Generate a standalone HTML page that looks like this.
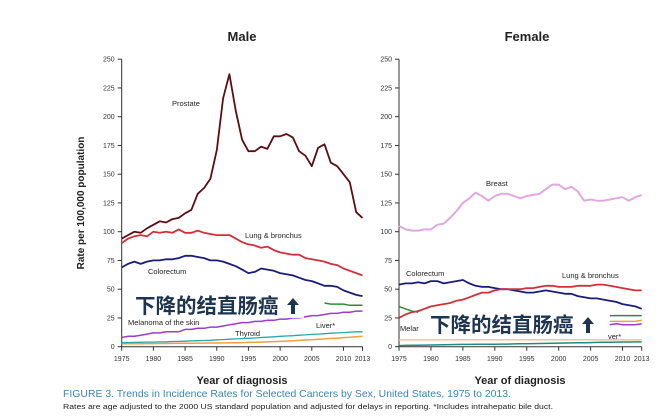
<!DOCTYPE html>
<html><head><meta charset="utf-8"><style>
body{margin:0;background:#fff;width:670px;height:416px;overflow:hidden}
svg{display:block;font-family:"Liberation Sans",Arial,sans-serif}
</style></head><body>
<svg id="c" width="670" height="416">
<text x="242" y="41" font-size="13" font-weight="bold" text-anchor="middle" fill="#222">Male</text>
<text x="527" y="41" font-size="13" font-weight="bold" text-anchor="middle" fill="#222">Female</text>
<text transform="translate(84,203) rotate(-90)" font-size="10" font-weight="bold" text-anchor="middle" fill="#222">Rate per 100,000 population</text>
<text x="242" y="384" font-size="11" font-weight="bold" text-anchor="middle" fill="#222">Year of diagnosis</text>
<text x="520" y="384" font-size="11" font-weight="bold" text-anchor="middle" fill="#222">Year of diagnosis</text>
<text x="63" y="397" font-size="10.5" fill="#3a86b0" textLength="448" lengthAdjust="spacingAndGlyphs">FIGURE 3. Trends in Incidence Rates for Selected Cancers by Sex, United States, 1975 to 2013.</text>
<text x="63" y="409" font-size="7" fill="#222" textLength="490" lengthAdjust="spacingAndGlyphs">Rates are age adjusted to the 2000 US standard population and adjusted for delays in reporting. *Includes intrahepatic bile duct.</text>
</svg>
<script>
const years=[];for(let y=1975;y<=2013;y++)years.push(y);
const yTicks=[0,25,50,75,100,125,150,175,200,225,250];
const xTicks=[1975,1980,1985,1990,1995,2000,2005,2010,2013];
const maleProstate=[94,97,100,99,103,106,109,108,111,112,116,119,133,138,146,171,216,237,205,180,170,170,174,172,183,183,185,182,170,166,157,173,176,160,157,150,143,117,112];
const maleLung=[90,94,96,97,96,100,99,100,99,102,99,99,101,99,98,97,97,97,94,91,89,88,86,87,84,82,81,80,80,77,76,75,74,72,71,68,66,64,62];
const maleColorectum=[69,72,74,72,74,75,75,76,76,77,79,79,78,77,75,75,74,72,70,67,64,65,68,67,66,64,63,62,60,58,57,55,53,53,52,49,47,45,44];
const maleMelanoma=[8,9,9,10,11,12,12,13,13,13,15,15,16,16,17,17,18,19,20,21,21,22,22,23,23,24,24,25,25,26,27,27,28,29,29,30,30,31,31];
const maleLiver=[3.5,3.6,3.7,3.8,4,4,4.2,4.3,4.5,4.6,4.8,5,5.2,5.4,5.6,6,6.2,6.5,6.8,7,7.3,7.6,8,8.3,8.6,9,9.3,9.6,10,10.3,10.7,11,11.3,11.7,12,12.3,12.7,13,13];
const maleThyroid=[2.5,2.5,2.6,2.6,2.7,2.7,2.8,2.8,2.9,3,3,3,3.1,3.1,3.2,3.2,3.3,3.4,3.5,3.6,3.7,3.9,4,4.2,4.4,4.6,4.9,5.2,5.5,5.8,6.1,6.5,6.8,7.2,7.5,7.9,8.2,8.6,9];
const maleKidneyTail=[38,37,37,37,36,36,36];
const femaleBreast=[105,102,101,101,102,102,106,107,112,118,125,129,134,131,127,131,133,133,131,129,131,132,133,137,141,141,137,139,135,127,128,127,127,128,129,130,127,130,132];
const femaleLung=[25,28,30,31,33,35,36,37,38,40,41,43,45,47,47,49,50,50,50,50,51,51,52,53,53,52,52,52,53,53,53,54,54,53,52,51,50,49,49];
const femaleColorectum=[54,55,55,56,55,57,57,55,56,57,58,55,53,52,52,51,50,50,49,48,47,47,48,49,48,47,46,46,44,43,42,42,41,40,39,37,36,35,33];
const femaleLow=[1,1.1,1.2,1.3,1.4,1.5,1.6,1.7,1.8,1.9,2,2,2.1,2.1,2.2,2.2,2.3,2.3,2.4,2.5,2.6,2.7,2.8,2.9,3,3.1,3.2,3.3,3.4,3.5,3.6,3.7,3.8,3.9,4,4.1,4.1,4.2,4.2];
const femaleOrange=[6,6,6,6,6,6,6,6,6,6,6,6,6,6,6,6,6,6,6,6,6,6,6,6,6,6,6,6,6,6,6,6,6,6,6,6,6,6,6];
const femaleUterusHead=[35,33,31,30];
const femaleTail=[27,27,27,27,27,27];
const femalePurpleTail=[19,20,19,19,19,20];
const femaleOrangeTail=[22,22,22,22,22,23];

const svg=document.getElementById('c');const NS='http://www.w3.org/2000/svg';
function mk(t,a){const e=document.createElementNS(NS,t);for(const k in a)e.setAttribute(k,a[k]);svg.appendChild(e);return e;}
const Y=v=>346.7-v*1.15;
function panel(name,x0,x1){
  const X=y=>x0+(y-1975)*(x1-x0)/38;
  const ax=mk('path',{d:`M${x0},${Y(250)}V${Y(0)}H${x1}`,stroke:'#333',fill:'none','stroke-width':1});
  
  
  yTicks.forEach(v=>{mk('line',{x1:x0-4,x2:x0,y1:Y(v),y2:Y(v),stroke:'#333'});
    const t=mk('text',{x:x0-7,y:Y(v)+2.5,'font-size':7,'text-anchor':'end',fill:'#333'});t.textContent=v;
    
    });
  xTicks.forEach(v=>{mk('line',{x1:X(v),x2:X(v),y1:Y(0),y2:Y(0)+4,stroke:'#333'});
    const t=mk('text',{x:X(v),y:361,'font-size':7,'text-anchor':'middle',fill:'#333'});t.textContent=v;
    
    });
  return X;
}
function line(X,arr,start,color,w,nm){
  const d=arr.map((v,i)=>(i?'L':'M')+X(start+i).toFixed(1)+','+Y(v).toFixed(1)).join('');
  const p=mk('path',{d:d,stroke:color,fill:'none','stroke-width':w,'stroke-linejoin':'round'});
  
  
}
function label(x,y,s,nm){const t=mk('text',{x:x,y:y,'font-size':7.5,fill:'#222'});t.textContent=s;
  
  }
const XM=panel('male',121.7,362.5);
line(XM,maleThyroid,1975,'#f0a040',1.5,'male-thyroid-line');
line(XM,maleLiver,1975,'#2aa6a6',1.3,'male-liver-line');
line(XM,maleMelanoma,1975,'#9a3ccc',1.5,'male-melanoma-line');
line(XM,maleKidneyTail,2007,'#2e8b3a',1.5,'male-kidney-line');
line(XM,maleColorectum,1975,'#1c1c78',1.8,'male-colorectum-line');
line(XM,maleLung,1975,'#d0303a',1.8,'male-lung-line');
line(XM,maleProstate,1975,'#5a0d14',1.8,'male-prostate-line');
label(172,106,'Prostate','prostate-label');label(245,238,'Lung & bronchus','male-lung-label');
label(148,274,'Colorectum','male-colorectum-label');label(235,336,'Thyroid','thyroid-label');
label(316,328,'Liver*','liver-label');label(128,325,'Melanoma of the skin','melanoma-label');
const XF=panel('female',399,641.7);
line(XF,femaleOrange,1975,'#f0c080',1.3,'female-thyroid-line');
line(XF,femaleLow,1975,'#1e8a8a',1.5,'female-liver-line');
line(XF,femaleUterusHead,1975,'#2e8b3a',1.5,'female-uterus-line');
line(XF,femaleTail,2008,'#2e8b3a',1.5,'female-uterus-tail');
line(XF,femaleOrangeTail,2008,'#f0a040',1.5,'female-thyroid-tail');
line(XF,femalePurpleTail,2008,'#9a3ccc',1.5,'female-melanoma-tail');
line(XF,femaleColorectum,1975,'#1c1c78',1.8,'female-colorectum-line');
line(XF,femaleLung,1975,'#d0303a',1.8,'female-lung-line');
line(XF,femaleBreast,1975,'#e0a8e0',2,'female-breast-line');
label(486,186,'Breast','breast-label');label(562,278,'Lung & bronchus','female-lung-label');
label(406,276,'Colorectum','female-colorectum-label');label(400,331,'Melar','female-melanoma-label');
label(608,339,'ver*','female-liver-label');
function overlay(x,y,nm){
  const r=mk('rect',{x:x-3,y:y-20,width:172,height:25,fill:'#fff','fill-opacity':0.85});
  
  
  const t=mk('text',{x:x,y:y,'font-size':20.5,'font-weight':'bold',fill:'#1e3550','font-family':'"Liberation Sans","Noto Sans CJK SC",sans-serif'});
  t.textContent='下降的结直肠癌';
  
  
  const a=mk('path',{d:`M${x+158},${y-15} l-6,7 h4 v9 h4 v-9 h4 z`,fill:'#1e3550'});
  
  
}
overlay(135,313,'male-overlay-annotation');
overlay(430,332,'female-overlay-annotation');
</script>
</body></html>
